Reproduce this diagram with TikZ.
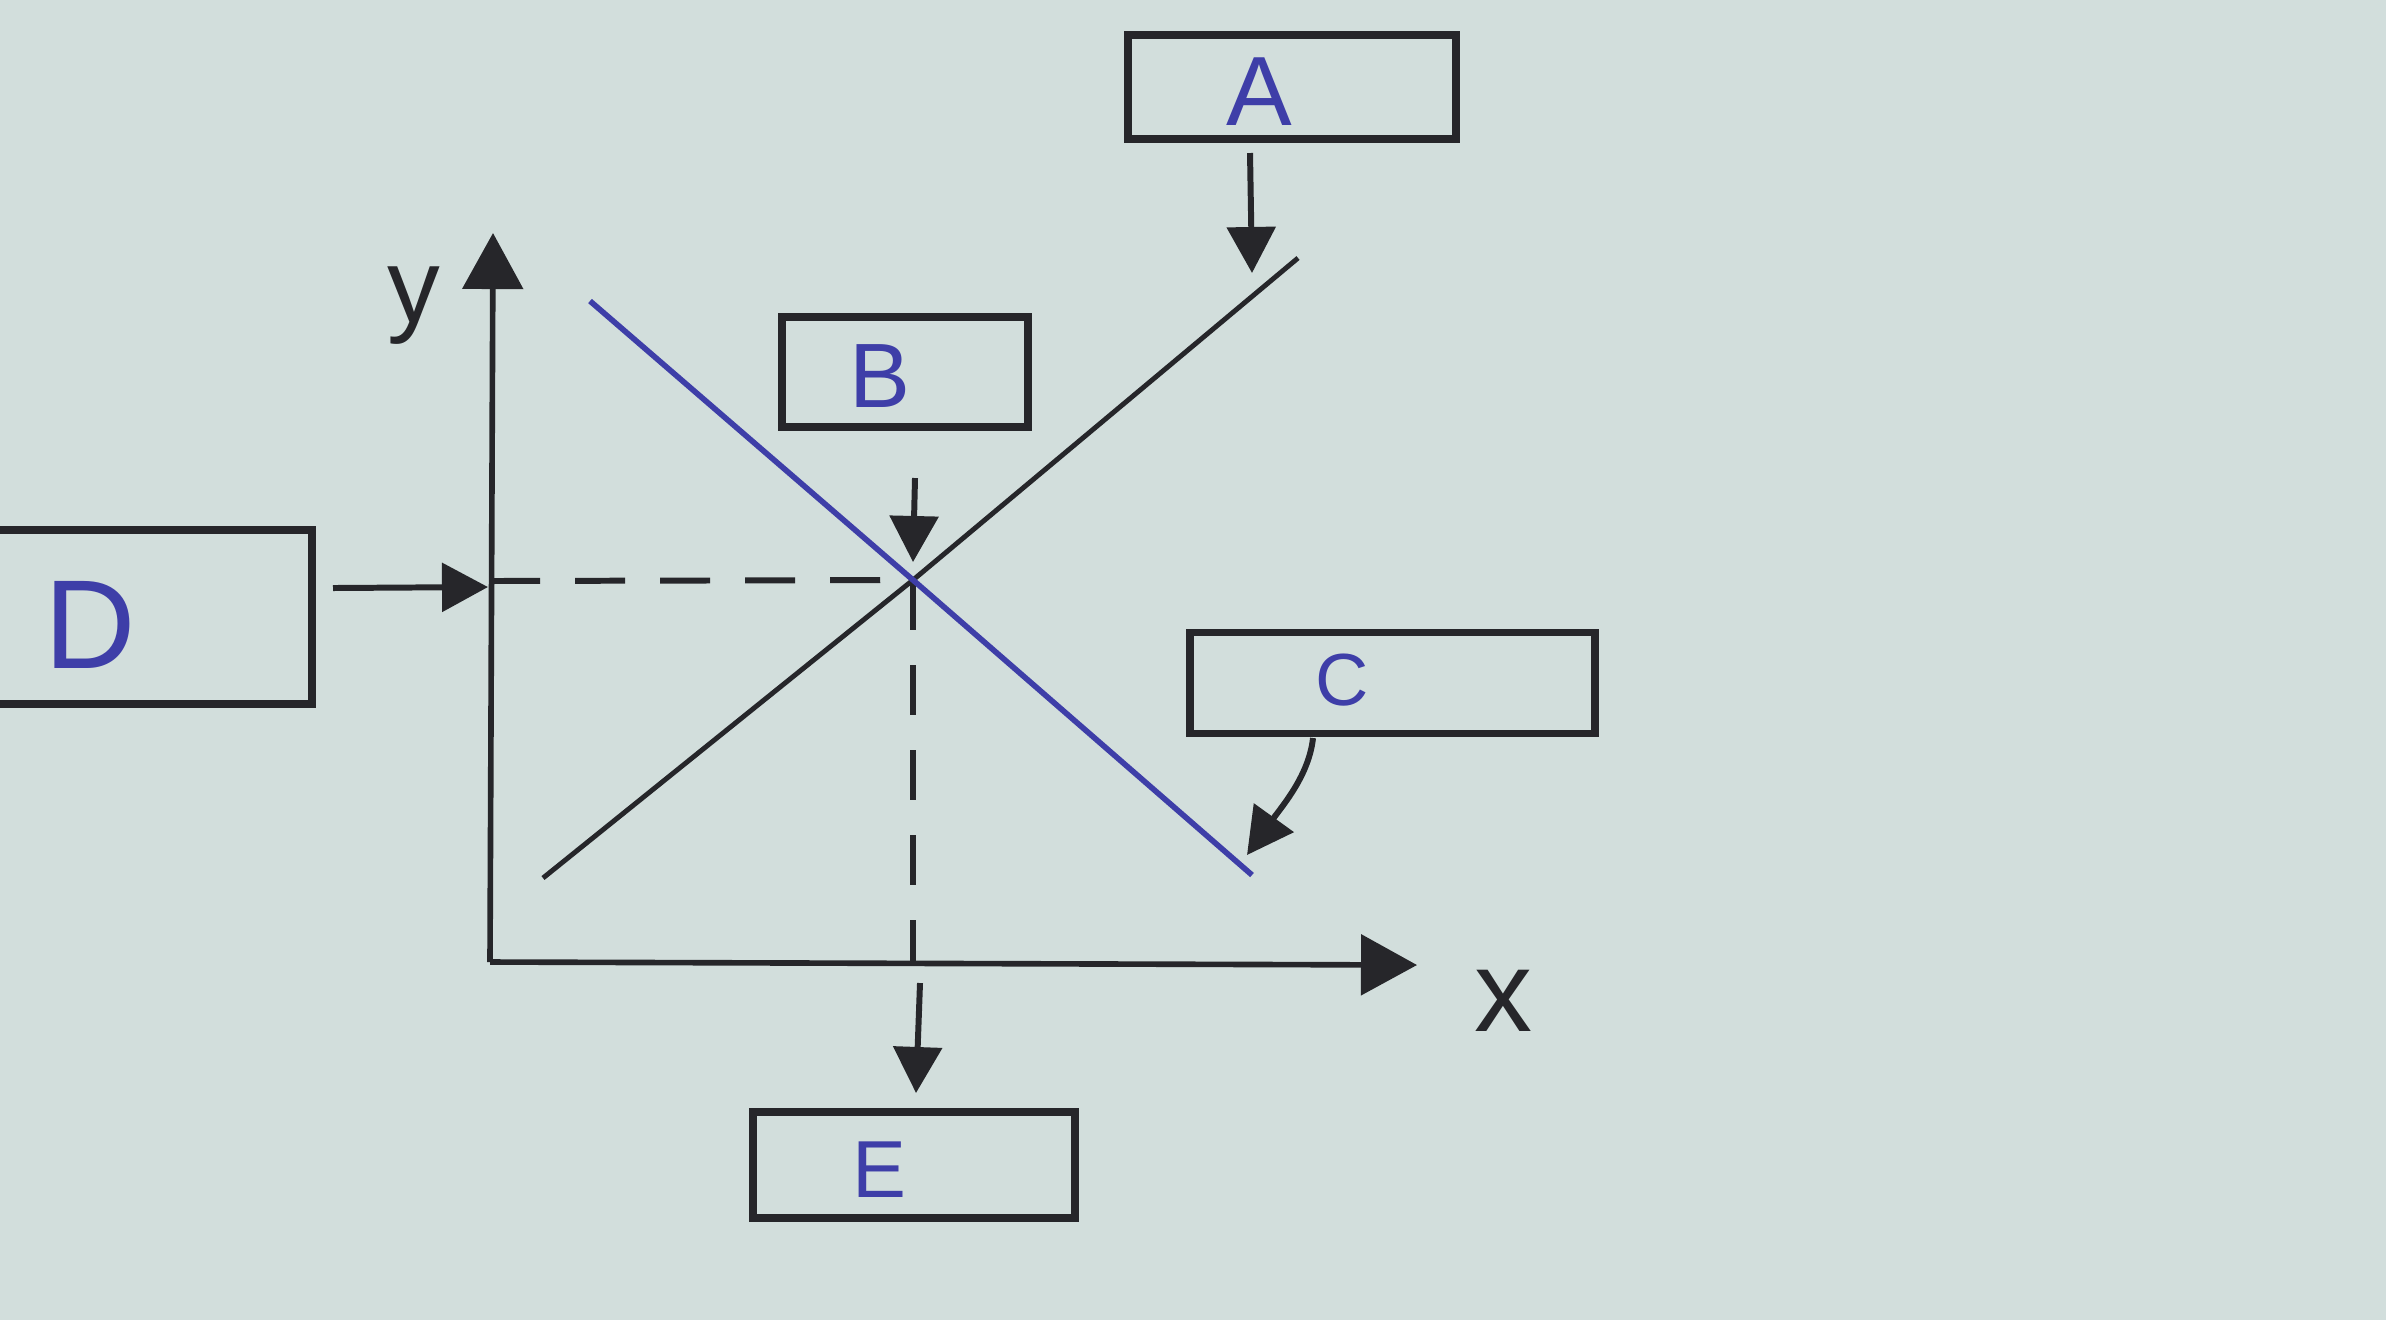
\documentclass[tikz,border=0pt]{standalone}
\usepackage{fontspec}
\setsansfont{Liberation Sans}
\usetikzlibrary{arrows.meta}
\definecolor{paper}{RGB}{210,222,220}
\definecolor{inkc}{RGB}{38,38,42}
\definecolor{bluei}{RGB}{62,62,168}
\begin{document}
\begin{tikzpicture}[x=0.01cm,y=-0.01cm,
  boxst/.style={draw=inkc, line width=2.2pt, inner sep=0pt},
  lab/.style={text=bluei, font=\sffamily, inner sep=0pt},
  axlab/.style={text=inkc, font=\sffamily, inner sep=0pt},
  arr/.style={draw=inkc, line width=1.7pt, -{Triangle[length=0.46cm,width=0.48cm]}},
  bigarr/.style={draw=inkc, line width=1.6pt, -{Triangle[length=0.56cm,width=0.6cm]}},
  supply/.style={draw=inkc, line width=1.4pt},
  demand/.style={draw=bluei, line width=1.6pt},
  guide/.style={draw=inkc, line width=1.7pt, dash pattern=on 0.5cm off 0.35cm}]
\fill[paper] (0,0) rectangle (2386,1320);
\useasboundingbox (0,0) rectangle (2386,1320);
\clip (0,0) rectangle (2386,1320);

% boxes
\node[boxst, minimum width=3.28cm, minimum height=1.04cm] (boxA) at (1292,87) {};
\node[boxst, minimum width=2.46cm, minimum height=1.10cm] (boxB) at (905,372) {};
\node[boxst, minimum width=4.05cm, minimum height=1.01cm] (boxC) at (1392.5,683) {};
\node[boxst, minimum width=3.72cm, minimum height=1.74cm] (boxD) at (126,617) {};
\node[boxst, minimum width=3.22cm, minimum height=1.06cm] (boxE) at (914,1165) {};

% labels
\node[lab, font=\sffamily\fontsize{28}{28}\selectfont] (labA) at (1259,92) {A};
\node[lab, font=\sffamily\fontsize{26}{26}\selectfont] (labB) at (880,376) {B};
\node[lab, font=\sffamily\fontsize{21}{21}\selectfont] (labC) at (1342,680) {C};
\node[lab, font=\sffamily\fontsize{36}{36}\selectfont] (labD) at (90,625) {D};
\node[lab, font=\sffamily\fontsize{23}{23}\selectfont] (labE) at (879,1170) {E};
\node[axlab, font=\sffamily\fontsize{30}{30}\selectfont] (laby) at (414,306) {y};
\node[axlab, font=\sffamily\fontsize{33}{33}\selectfont] (labx) at (1503,1001) {x};

% key points
\coordinate (O) at (490,962);
\coordinate (ytip) at (493,233);
\coordinate (xtip) at (1417,965);
\coordinate (X) at (913,580);
\coordinate (yD) at (490,581);
\coordinate (xE) at (913,962);
\coordinate (sL) at (543,878);
\coordinate (sH) at (1298,258);
\coordinate (dH) at (590,301);
\coordinate (dL) at (1252,875);

% axes
\draw[bigarr] (O) -- (ytip);
\draw[bigarr] (O) -- (xtip);

% guides
\draw[guide] (yD) -- (X);
\draw[guide] (X) -- (xE);

% curves
\draw[supply] (sL) -- (X) -- (sH);
\draw[demand] (dH) -- (X) -- (dL);

% connectors
\coordinate (aS) at (1250,153);
\coordinate (aT) at (1252,273);
\draw[arr] (aS) -- (aT);
\coordinate (bS) at (915,478);
\coordinate (bT) at (913,562);
\draw[arr] (bS) -- (bT);
\coordinate (dS) at (333,588);
\coordinate (dT) at (488,587);
\draw[arr] (dS) -- (dT);
\coordinate (eS) at (920,983);
\coordinate (eT) at (916,1093);
\draw[arr] (eS) -- (eT);
\coordinate (cS) at (1313,738);
\coordinate (cT) at (1247,855);
\draw[arr] (cS) .. controls (1309,775) and (1283,805) .. (cT);
\end{tikzpicture}
\end{document}
